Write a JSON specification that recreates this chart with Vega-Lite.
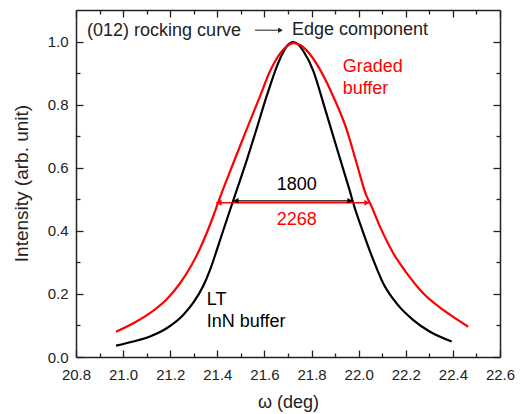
{
  "$schema": "https://vega.github.io/schema/vega-lite/v6.json",
  "width": 424,
  "height": 347,
  "autosize": {"type": "none"},
  "padding": {"left": 76, "top": 10, "right": 21, "bottom": 57},
  "background": "white",
  "config": {
    "view": {"stroke": null},
    "font": "Liberation Sans",
    "axis": {"grid": false, "domainWidth": 1.5, "tickWidth": 1.3, "labelFontSize": 15, "labelFlush": false, "labelOverlap": false}
  },
  "datasets": {
    "curves": [
      {"sample": "LT", "omega": 20.97, "intensity": 0.036},
      {"sample": "LT", "omega": 21.043, "intensity": 0.049},
      {"sample": "LT", "omega": 21.114, "intensity": 0.065},
      {"sample": "LT", "omega": 21.185, "intensity": 0.091},
      {"sample": "LT", "omega": 21.255, "intensity": 0.133},
      {"sample": "LT", "omega": 21.298, "intensity": 0.172},
      {"sample": "LT", "omega": 21.34, "intensity": 0.225},
      {"sample": "LT", "omega": 21.369, "intensity": 0.276},
      {"sample": "LT", "omega": 21.397, "intensity": 0.337},
      {"sample": "LT", "omega": 21.425, "intensity": 0.401},
      {"sample": "LT", "omega": 21.454, "intensity": 0.466},
      {"sample": "LT", "omega": 21.482, "intensity": 0.528},
      {"sample": "LT", "omega": 21.524, "intensity": 0.622},
      {"sample": "LT", "omega": 21.567, "intensity": 0.724},
      {"sample": "LT", "omega": 21.609, "intensity": 0.826},
      {"sample": "LT", "omega": 21.652, "intensity": 0.92},
      {"sample": "LT", "omega": 21.675, "intensity": 0.96},
      {"sample": "LT", "omega": 21.695, "intensity": 0.985},
      {"sample": "LT", "omega": 21.722, "intensity": 0.998},
      {"sample": "LT", "omega": 21.745, "intensity": 0.99},
      {"sample": "LT", "omega": 21.765, "intensity": 0.97},
      {"sample": "LT", "omega": 21.807, "intensity": 0.908},
      {"sample": "LT", "omega": 21.85, "intensity": 0.805},
      {"sample": "LT", "omega": 21.892, "intensity": 0.7},
      {"sample": "LT", "omega": 21.935, "intensity": 0.594},
      {"sample": "LT", "omega": 21.963, "intensity": 0.525},
      {"sample": "LT", "omega": 21.977, "intensity": 0.488},
      {"sample": "LT", "omega": 22.02, "intensity": 0.393},
      {"sample": "LT", "omega": 22.062, "intensity": 0.308},
      {"sample": "LT", "omega": 22.104, "intensity": 0.234},
      {"sample": "LT", "omega": 22.161, "intensity": 0.17},
      {"sample": "LT", "omega": 22.232, "intensity": 0.117},
      {"sample": "LT", "omega": 22.303, "intensity": 0.08},
      {"sample": "LT", "omega": 22.395, "intensity": 0.049},
      {"sample": "Graded", "omega": 20.97, "intensity": 0.08},
      {"sample": "Graded", "omega": 21.043, "intensity": 0.107},
      {"sample": "Graded", "omega": 21.114, "intensity": 0.139},
      {"sample": "Graded", "omega": 21.185, "intensity": 0.183},
      {"sample": "Graded", "omega": 21.241, "intensity": 0.233},
      {"sample": "Graded", "omega": 21.284, "intensity": 0.283},
      {"sample": "Graded", "omega": 21.326, "intensity": 0.343},
      {"sample": "Graded", "omega": 21.355, "intensity": 0.393},
      {"sample": "Graded", "omega": 21.383, "intensity": 0.447},
      {"sample": "Graded", "omega": 21.411, "intensity": 0.505},
      {"sample": "Graded", "omega": 21.468, "intensity": 0.615},
      {"sample": "Graded", "omega": 21.524, "intensity": 0.721},
      {"sample": "Graded", "omega": 21.581, "intensity": 0.826},
      {"sample": "Graded", "omega": 21.623, "intensity": 0.905},
      {"sample": "Graded", "omega": 21.666, "intensity": 0.962},
      {"sample": "Graded", "omega": 21.695, "intensity": 0.985},
      {"sample": "Graded", "omega": 21.722, "intensity": 0.995},
      {"sample": "Graded", "omega": 21.75, "intensity": 0.99},
      {"sample": "Graded", "omega": 21.779, "intensity": 0.972},
      {"sample": "Graded", "omega": 21.836, "intensity": 0.911},
      {"sample": "Graded", "omega": 21.892, "intensity": 0.826},
      {"sample": "Graded", "omega": 21.949, "intensity": 0.721},
      {"sample": "Graded", "omega": 21.991, "intensity": 0.615},
      {"sample": "Graded", "omega": 22.034, "intensity": 0.509},
      {"sample": "Graded", "omega": 22.048, "intensity": 0.488},
      {"sample": "Graded", "omega": 22.09, "intensity": 0.414},
      {"sample": "Graded", "omega": 22.147, "intensity": 0.329},
      {"sample": "Graded", "omega": 22.204, "intensity": 0.266},
      {"sample": "Graded", "omega": 22.274, "intensity": 0.202},
      {"sample": "Graded", "omega": 22.359, "intensity": 0.149},
      {"sample": "Graded", "omega": 22.465, "intensity": 0.096}
    ],
    "labels": [
      {"label": "(012) rocking curve", "omega": 20.847, "intensity": 1.033, "sample": "note"},
      {"label": "Edge component", "omega": 21.717, "intensity": 1.036, "sample": "note"},
      {"label": "Graded", "omega": 21.932, "intensity": 0.919, "sample": "Graded"},
      {"label": "buffer", "omega": 21.932, "intensity": 0.849, "sample": "Graded"},
      {"label": "1800", "omega": 21.652, "intensity": 0.546, "sample": "LT"},
      {"label": "2268", "omega": 21.652, "intensity": 0.435, "sample": "Graded"},
      {"label": "LT", "omega": 21.355, "intensity": 0.181, "sample": "LT"},
      {"label": "InN buffer", "omega": 21.355, "intensity": 0.11, "sample": "LT"}
    ],
    "arrows": [
      {"sample": "LT", "omega": 21.47, "omega2": 21.975, "intensity": 0.495},
      {"sample": "Graded", "omega": 21.395, "omega2": 22.047, "intensity": 0.489},
      {"sample": "note", "omega": 21.56, "omega2": 21.665, "intensity": 1.036}
    ],
    "heads": [
      {"sample": "LT", "dir": "left", "omega": 21.479, "intensity": 0.495},
      {"sample": "LT", "dir": "right", "omega": 21.963, "intensity": 0.495},
      {"sample": "Graded", "dir": "left", "omega": 21.407, "intensity": 0.489},
      {"sample": "Graded", "dir": "right", "omega": 22.035, "intensity": 0.489},
      {"sample": "note", "dir": "right", "omega": 21.668, "intensity": 1.036}
    ]
  },
  "layer": [
    {
      "data": {"name": "curves"},
      "transform": [{"filter": "datum.sample === 'LT'"}],
      "mark": {"type": "line", "color": "#000000", "strokeWidth": 2.2, "interpolate": "monotone"},
      "encoding": {
        "x": {"field": "omega", "type": "quantitative", "scale": {"domain": [20.8, 22.6], "nice": false, "zero": false},
          "axis": {"orient": "bottom", "values": [20.8, 21.0, 21.2, 21.4, 21.6, 21.8, 22.0, 22.2, 22.4, 22.6], "format": ".1f", "ticks": false, "labelPadding": 10, "labelColor": "#222222", "domainColor": "#222222",
            "title": "ω (deg)", "titleFontSize": 18, "titleFontWeight": "normal", "titleColor": "#222222", "titleX": 212, "titleY": 45, "titleBaseline": "middle"}},
        "y": {"field": "intensity", "type": "quantitative", "scale": {"domain": [0, 1.1], "nice": false},
          "axis": {"orient": "left", "values": [0, 0.2, 0.4, 0.6, 0.8, 1.0], "format": ".1f", "ticks": false, "labelPadding": 8, "labelColor": "#222222", "domainColor": "#222222",
            "title": "Intensity (arb. unit)", "titleFontSize": 19, "titleFontWeight": "normal", "titleColor": "#222222", "titleAngle": 270, "titleX": -55, "titleY": 173, "titleBaseline": "middle"}}
      }
    },
    {
      "data": {"name": "curves"},
      "transform": [{"filter": "datum.sample === 'Graded'"}],
      "mark": {"type": "line", "color": "#ff0000", "strokeWidth": 2.2, "interpolate": "monotone"},
      "encoding": {
        "x": {"field": "omega", "type": "quantitative", "scale": {"domain": [20.8, 22.6], "nice": false, "zero": false},
          "axis": {"orient": "bottom", "offset": -347, "values": [20.8, 21.0, 21.2, 21.4, 21.6, 21.8, 22.0, 22.2, 22.4, 22.6], "tickSize": 7, "labels": false, "title": null, "domainColor": "#222222", "tickColor": "#222222"}},
        "y": {"field": "intensity", "type": "quantitative", "scale": {"domain": [0, 1.1], "nice": false},
          "axis": {"orient": "left", "offset": -424, "values": [0, 0.2, 0.4, 0.6, 0.8, 1.0], "tickSize": 7, "labels": false, "title": null, "domainColor": "#222222", "tickColor": "#222222"}}
      }
    },
    {
      "data": {"name": "labels"},
      "transform": [{"filter": "datum.sample === 'LT'"}],
      "mark": {"type": "text", "color": "#000000", "align": "left", "baseline": "middle", "fontSize": 18, "font": "Liberation Sans"},
      "encoding": {
        "x": {"field": "omega", "type": "quantitative", "scale": {"domain": [20.8, 22.6], "nice": false, "zero": false},
          "axis": {"orient": "top", "offset": -347, "values": [20.8, 21.0, 21.2, 21.4, 21.6, 21.8, 22.0, 22.2, 22.4, 22.6], "tickSize": 7, "labels": false, "title": null, "domain": false, "tickColor": "#222222"}},
        "y": {"field": "intensity", "type": "quantitative", "scale": {"domain": [0, 1.1], "nice": false},
          "axis": {"orient": "right", "offset": -424, "values": [0, 0.2, 0.4, 0.6, 0.8, 1.0], "tickSize": 7, "labels": false, "title": null, "domain": false, "tickColor": "#222222"}},
        "text": {"field": "label", "type": "nominal"}
      }
    },
    {
      "data": {"name": "labels"},
      "transform": [{"filter": "datum.sample === 'Graded'"}],
      "mark": {"type": "text", "color": "#ff0000", "align": "left", "baseline": "middle", "fontSize": 18, "font": "Liberation Sans"},
      "encoding": {
        "x": {"field": "omega", "type": "quantitative", "scale": {"domain": [20.8, 22.6], "nice": false, "zero": false},
          "axis": {"orient": "top", "offset": -347, "values": [20.9, 21.1, 21.3, 21.5, 21.7, 21.9, 22.1, 22.3, 22.5], "tickSize": 4, "labels": false, "title": null, "domain": false, "tickColor": "#222222"}},
        "y": {"field": "intensity", "type": "quantitative", "scale": {"domain": [0, 1.1], "nice": false},
          "axis": {"orient": "right", "offset": -424, "values": [0.1, 0.3, 0.5, 0.7, 0.9], "tickSize": 4, "labels": false, "title": null, "domain": false, "tickColor": "#222222"}},
        "text": {"field": "label", "type": "nominal"}
      }
    },
    {
      "data": {"name": "labels"},
      "transform": [{"filter": "datum.sample === 'note'"}],
      "mark": {"type": "text", "color": "#222222", "align": "left", "baseline": "middle", "fontSize": 18, "font": "Liberation Sans"},
      "encoding": {
        "x": {"field": "omega", "type": "quantitative", "scale": {"domain": [20.8, 22.6], "nice": false, "zero": false},
          "axis": {"orient": "bottom", "offset": -347, "values": [20.9, 21.1, 21.3, 21.5, 21.7, 21.9, 22.1, 22.3, 22.5], "tickSize": 4, "labels": false, "title": null, "domain": false, "tickColor": "#222222"}},
        "y": {"field": "intensity", "type": "quantitative", "scale": {"domain": [0, 1.1], "nice": false},
          "axis": {"orient": "left", "offset": -424, "values": [0.1, 0.3, 0.5, 0.7, 0.9], "tickSize": 4, "labels": false, "title": null, "domain": false, "tickColor": "#222222"}},
        "text": {"field": "label", "type": "nominal"}
      }
    },
    {
      "data": {"name": "arrows"},
      "transform": [{"filter": "datum.sample === 'LT'"}],
      "mark": {"type": "rule", "color": "#000000", "strokeWidth": 1.3},
      "encoding": {
        "x": {"field": "omega", "type": "quantitative", "scale": {"domain": [20.8, 22.6], "nice": false, "zero": false}, "axis": null},
        "x2": {"field": "omega2"},
        "y": {"field": "intensity", "type": "quantitative", "scale": {"domain": [0, 1.1], "nice": false}, "axis": null}
      }
    },
    {
      "data": {"name": "arrows"},
      "transform": [{"filter": "datum.sample === 'Graded'"}],
      "mark": {"type": "rule", "color": "#ff0000", "strokeWidth": 1.3},
      "encoding": {
        "x": {"field": "omega", "type": "quantitative", "scale": {"domain": [20.8, 22.6], "nice": false, "zero": false}, "axis": null},
        "x2": {"field": "omega2"},
        "y": {"field": "intensity", "type": "quantitative", "scale": {"domain": [0, 1.1], "nice": false}, "axis": null}
      }
    },
    {
      "data": {"name": "arrows"},
      "transform": [{"filter": "datum.sample === 'note'"}],
      "mark": {"type": "rule", "color": "#333333", "strokeWidth": 1.1},
      "encoding": {
        "x": {"field": "omega", "type": "quantitative", "scale": {"domain": [20.8, 22.6], "nice": false, "zero": false}, "axis": null},
        "x2": {"field": "omega2"},
        "y": {"field": "intensity", "type": "quantitative", "scale": {"domain": [0, 1.1], "nice": false}, "axis": null}
      }
    },
    {
      "data": {"name": "heads"},
      "transform": [{"filter": "datum.sample === 'LT' && datum.dir === 'left'"}],
      "mark": {"type": "point", "shape": "triangle-left", "filled": true, "size": 35, "opacity": 1, "color": "#000000"},
      "encoding": {
        "x": {"field": "omega", "type": "quantitative", "scale": {"domain": [20.8, 22.6], "nice": false, "zero": false}, "axis": null},
        "y": {"field": "intensity", "type": "quantitative", "scale": {"domain": [0, 1.1], "nice": false}, "axis": null}
      }
    },
    {
      "data": {"name": "heads"},
      "transform": [{"filter": "datum.sample === 'LT' && datum.dir === 'right'"}],
      "mark": {"type": "point", "shape": "triangle-right", "filled": true, "size": 35, "opacity": 1, "color": "#000000"},
      "encoding": {
        "x": {"field": "omega", "type": "quantitative", "scale": {"domain": [20.8, 22.6], "nice": false, "zero": false}, "axis": null},
        "y": {"field": "intensity", "type": "quantitative", "scale": {"domain": [0, 1.1], "nice": false}, "axis": null}
      }
    },
    {
      "data": {"name": "heads"},
      "transform": [{"filter": "datum.sample === 'Graded' && datum.dir === 'left'"}],
      "mark": {"type": "point", "shape": "triangle-left", "filled": true, "size": 35, "opacity": 1, "color": "#ff0000"},
      "encoding": {
        "x": {"field": "omega", "type": "quantitative", "scale": {"domain": [20.8, 22.6], "nice": false, "zero": false}, "axis": null},
        "y": {"field": "intensity", "type": "quantitative", "scale": {"domain": [0, 1.1], "nice": false}, "axis": null}
      }
    },
    {
      "data": {"name": "heads"},
      "transform": [{"filter": "datum.sample === 'Graded' && datum.dir === 'right'"}],
      "mark": {"type": "point", "shape": "triangle-right", "filled": true, "size": 35, "opacity": 1, "color": "#ff0000"},
      "encoding": {
        "x": {"field": "omega", "type": "quantitative", "scale": {"domain": [20.8, 22.6], "nice": false, "zero": false}, "axis": null},
        "y": {"field": "intensity", "type": "quantitative", "scale": {"domain": [0, 1.1], "nice": false}, "axis": null}
      }
    },
    {
      "data": {"name": "heads"},
      "transform": [{"filter": "datum.sample === 'note'"}],
      "mark": {"type": "point", "shape": "triangle-right", "filled": true, "size": 30, "opacity": 1, "color": "#222222"},
      "encoding": {
        "x": {"field": "omega", "type": "quantitative", "scale": {"domain": [20.8, 22.6], "nice": false, "zero": false}, "axis": null},
        "y": {"field": "intensity", "type": "quantitative", "scale": {"domain": [0, 1.1], "nice": false}, "axis": null}
      }
    }
  ],
  "resolve": {"axis": {"x": "independent", "y": "independent"}}
}
